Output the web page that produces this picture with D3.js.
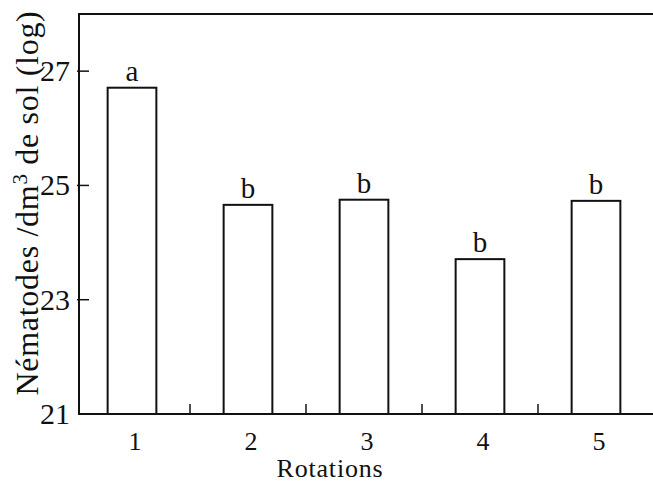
<!DOCTYPE html>
<html>
<head>
<meta charset="utf-8">
<script src="https://cdn.jsdelivr.net/npm/d3@7"></script>
<style>
  body { margin: 0; background: #fff; }
  text { font-family: "Liberation Serif", "Times New Roman", serif; fill: #111; }
</style>
</head>
<body>
<script>
// data
const rotations = ['1', '2', '3', '4', '5'];
const values = [26.71, 24.66, 24.75, 23.71, 24.73];
const letters = ['a', 'b', 'b', 'b', 'b'];
const yTicks = [21, 23, 25, 27];

const width = 653;
const height = 484;

const svg = d3.select('body')
  .append('svg')
  .attr('width', width)
  .attr('height', height);

const plotLeft = 79, plotTop = 14, plotBottom = 414;

const y = d3.scaleLinear().domain([21, 28]).range([plotBottom, plotTop]);
const x = d3.scaleBand().domain(rotations).range([74, 654])
  .paddingInner(0.58).paddingOuter(0.29);

// frame: left axis, top line, bottom line (no right side)
svg.append('path')
  .attr('d', `M${width},${plotTop}H${plotLeft}V${plotBottom}H${width}`)
  .attr('fill', 'none')
  .attr('stroke', '#111')
  .attr('stroke-width', 2);

// y ticks point inwards
svg.selectAll('.ytick')
  .data(yTicks.slice(1))
  .enter()
  .append('line')
  .attr('x1', plotLeft - 2)
  .attr('x2', plotLeft + 10)
  .attr('y1', d => y(d))
  .attr('y2', d => y(d))
  .attr('stroke', '#111')
  .attr('stroke-width', 1.5);

svg.selectAll('.ylab')
  .data(yTicks)
  .enter()
  .append('text')
  .attr('x', plotLeft - 9)
  .attr('y', d => y(d) + 10)
  .attr('text-anchor', 'end')
  .attr('font-size', 30)
  .text(d => d);

// x ticks between categories
svg.selectAll('.xtick')
  .data(rotations.slice(0, -1))
  .enter()
  .append('line')
  .attr('x1', d => x(d) + x.bandwidth() / 2 + x.step() / 2)
  .attr('x2', d => x(d) + x.bandwidth() / 2 + x.step() / 2)
  .attr('y1', plotBottom)
  .attr('y2', plotBottom - 10)
  .attr('stroke', '#111')
  .attr('stroke-width', 1.5);

// bars
svg.selectAll('.bar')
  .data(values)
  .enter()
  .append('rect')
  .attr('x', (d, i) => x(rotations[i]))
  .attr('y', d => y(d))
  .attr('width', x.bandwidth())
  .attr('height', d => plotBottom - y(d))
  .attr('fill', '#fff')
  .attr('stroke', '#111')
  .attr('stroke-width', 2);

// significance letters
svg.selectAll('.letter')
  .data(values)
  .enter()
  .append('text')
  .attr('x', (d, i) => x(rotations[i]) + x.bandwidth() / 2)
  .attr('y', d => y(d) - 7)
  .attr('text-anchor', 'middle')
  .attr('font-size', 29)
  .text((d, i) => letters[i]);

// x labels
svg.selectAll('.xlab')
  .data(rotations)
  .enter()
  .append('text')
  .attr('x', d => x(d) + x.bandwidth() / 2 + 3)
  .attr('y', 450)
  .attr('text-anchor', 'middle')
  .attr('font-size', 26)
  .text(d => d);

svg.append('text')
  .attr('x', 330)
  .attr('y', 477)
  .attr('text-anchor', 'middle')
  .attr('font-size', 26)
  .attr('letter-spacing', 0.8)
  .text('Rotations');

// y title
const ytitle = svg.append('text')
  .attr('transform', 'translate(38,203) rotate(-90)')
  .attr('text-anchor', 'middle')
  .attr('font-size', 32)
  .attr('letter-spacing', 0.7);
ytitle.append('tspan').text('Nématodes /dm');
ytitle.append('tspan').attr('dy', -11).attr('font-size', 21).text('3');
ytitle.append('tspan').attr('dy', 11).text(' de sol (log)');
</script>
</body>
</html>
